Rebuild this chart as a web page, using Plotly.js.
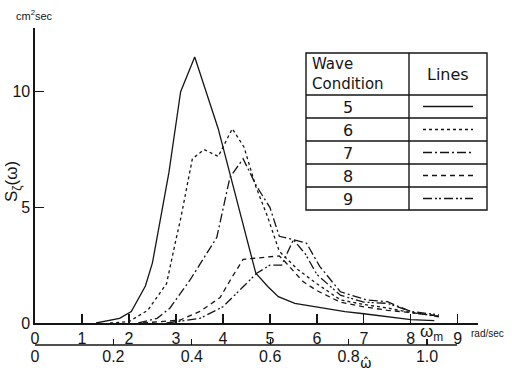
<!DOCTYPE html>
<html>
<head>
<meta charset="utf-8">
<script src="https://cdn.plot.ly/plotly-3.0.1.min.js"></script>
<style>html,body{margin:0;padding:0;background:#fff;}#chart{width:512px;height:372px;}</style>
</head>
<body>
<div id="chart"></div>
<script>
// Data (omega_m in rad/sec, S in cm^2 sec)
const w5 = [1.3, 1.8, 2.05, 2.35, 2.5, 2.85, 3.1, 3.4, 3.9, 4.7, 4.96, 5.18, 5.53, 5.96, 6.6, 7.0, 8.0, 8.5];
const s5 = [0, 0.2, 0.5, 1.6, 2.6, 6.5, 10.0, 11.5, 8.4, 2.15, 1.57, 1.14, 0.85, 0.7, 0.49, 0.4, 0.15, 0.1];

const w6 = [1.6, 2.0, 2.4, 2.8, 3.0, 3.1, 3.35, 3.6, 3.9, 4.2, 4.45, 4.7, 4.95, 5.2, 5.6, 6.0, 6.5, 7.0, 7.5, 8.0, 8.6];
const s6 = [0, 0.06, 0.55, 1.7, 3.6, 4.5, 7.1, 7.5, 7.2, 8.4, 7.6, 5.9, 4.6, 3.1, 2.3, 1.7, 1.0, 0.8, 0.65, 0.45, 0.3];

const w7 = [2.2, 2.6, 2.87, 3.3, 3.87, 4.15, 4.43, 4.72, 5.0, 5.2, 5.5, 5.78, 6.06, 6.5, 7.06, 7.5, 8.05, 8.6];
const s7 = [0, 0.2, 0.64, 1.86, 3.7, 6.3, 7.1, 5.9, 5.0, 3.75, 3.6, 3.45, 2.45, 1.35, 1.0, 0.92, 0.45, 0.27];

const w8 = [2.3, 2.7, 3.09, 3.51, 3.94, 4.2, 4.43, 4.68, 5.0, 5.2, 5.3, 5.7, 6.0, 6.5, 7.0, 7.5, 8.0, 8.6];
const s8 = [0, 0.05, 0.13, 0.5, 1.1, 2.0, 2.75, 2.8, 2.85, 2.9, 2.7, 1.8, 1.4, 0.9, 0.7, 0.55, 0.45, 0.3];

const w9 = [2.8, 3.2, 3.51, 4.0, 4.3, 4.72, 5.0, 5.25, 5.5, 5.75, 6.0, 6.5, 7.0, 7.5, 8.0, 8.6];
const s9 = [0, 0.1, 0.2, 0.7, 1.3, 2.15, 2.5, 2.5, 3.6, 3.0, 2.1, 1.2, 0.9, 0.85, 0.5, 0.35];

const conditions = ['5', '6', '7', '8', '9'];
const xTicks = [0, 1, 2, 3, 4, 5, 6, 7, 8, 9];
const yTicks = [0, 5, 10];
const hatTicks = [0, 0.2, 0.4, 0.6, 0.8, 1.0];
const hatLabels = ['0', '0.2', '0.4', '0.6', '0.8', '1.0'];

const dashes = ['solid', '3px,3px', '9px,3px,2px,3px', '5px,4px', '9px,3px,2px,2px,2px,3px'];
const seriesW = [w5, w6, w7, w8, w9];
const seriesS = [s5, s6, s7, s8, s9];

const ink = '#151515';
const traces = seriesW.map((w, i) => ({
  x: w, y: seriesS[i], type: 'scatter', mode: 'lines',
  line: {color: ink, width: 1.3, dash: dashes[i]},
  name: conditions[i], showlegend: false, hoverinfo: 'skip'
}));
traces.push({x: [], y: [], xaxis: 'x2', yaxis: 'y', type: 'scatter', mode: 'lines', showlegend: false});

// pixel -> paper helpers (plot paper: x 35..478, y 28..345)
const L = 35, R = 478, T = 28, B = 345;
const px = p => (p - L) / (R - L);
const py = p => (B - p) / (B - T);

const tickFam = 'Liberation Sans, Arial, sans-serif';
const boxFam = 'DejaVu Sans, sans-serif';
const tickFont = {family: tickFam, size: 16, color: ink};

const shapes = [];
const annotations = [];
// lower axis line
shapes.push({type: 'line', xref: 'paper', yref: 'paper', x0: 0, x1: px(457), y0: 0, y1: 0, line: {color: ink, width: 1.3}});

// legend table
const tl = 306, tr = 487, tdiv = 409, ttop = 53, thead = 95, tbot = 210;
const rowH = (tbot - thead) / conditions.length;
shapes.push({type: 'rect', xref: 'paper', yref: 'paper', x0: px(tl), x1: px(tr), y0: py(ttop), y1: py(tbot), line: {color: ink, width: 1.4}, fillcolor: 'rgba(255,255,255,1)', layer: 'above'});
shapes.push({type: 'line', xref: 'paper', yref: 'paper', x0: px(tdiv), x1: px(tdiv), y0: py(ttop), y1: py(tbot), line: {color: ink, width: 1.4}});
shapes.push({type: 'line', xref: 'paper', yref: 'paper', x0: px(tl), x1: px(tr), y0: py(thead), y1: py(thead), line: {color: ink, width: 1.4}});
annotations.push({xref: 'paper', yref: 'paper', x: px(310), y: py(74), xanchor: 'left', yanchor: 'middle', align: 'left', text: 'Wave<br>Condition', showarrow: false, font: {family: boxFam, size: 15, color: ink}});
annotations.push({xref: 'paper', yref: 'paper', x: px(448), y: py(74), xanchor: 'center', yanchor: 'middle', text: 'Lines', showarrow: false, font: {family: boxFam, size: 16, color: ink}});
conditions.forEach((c, i) => {
  const top = thead + i * rowH, bot = top + rowH, mid = (top + bot) / 2;
  if (i > 0) shapes.push({type: 'line', xref: 'paper', yref: 'paper', x0: px(tl), x1: px(tr), y0: py(top), y1: py(top), line: {color: ink, width: 1.4}});
  annotations.push({xref: 'paper', yref: 'paper', x: px(348), y: py(mid + 1), xanchor: 'center', yanchor: 'middle', text: c, showarrow: false, font: {family: boxFam, size: 16, color: ink}});
  shapes.push({type: 'line', xref: 'paper', yref: 'paper', x0: px(423), x1: px(473), y0: py(mid), y1: py(mid), line: {color: ink, width: 1.4, dash: dashes[i]}});
});

annotations.push({xref: 'paper', yref: 'paper', x: px(14), y: py(15), xanchor: 'left', yanchor: 'middle', text: 'cm<sup>2</sup>sec', showarrow: false, font: {family: tickFam, size: 11, color: ink}});
annotations.push({xref: 'paper', yref: 'paper', x: px(13), y: py(182), xanchor: 'center', yanchor: 'middle', textangle: -90, text: 'S<sub>ζ</sub>(ω)', showarrow: false, font: {family: tickFam, size: 17, color: ink}});
annotations.push({xref: 'paper', yref: 'paper', x: px(431), y: py(333), xanchor: 'center', yanchor: 'middle', text: 'ω<sub>m</sub>', showarrow: false, font: {family: tickFam, size: 17, color: ink}});
annotations.push({xref: 'paper', yref: 'paper', x: px(469), y: py(333), xanchor: 'left', yanchor: 'middle', text: 'rad/sec', showarrow: false, font: {family: tickFam, size: 10, color: ink}});
annotations.push({xref: 'paper', yref: 'paper', x: px(366), y: py(363), xanchor: 'center', yanchor: 'middle', text: 'ω\u0302', showarrow: false, font: {family: boxFam, size: 14, color: ink}});

const yPixPerUnit = (323 - 91.7) / 10;
const yTop = (323 - T) / yPixPerUnit;

const layout = {
  width: 512, height: 372,
  margin: {l: L, r: 512 - R, t: T, b: 372 - B, pad: 0},
  paper_bgcolor: '#fff', plot_bgcolor: 'rgba(0,0,0,0)',
  showlegend: false,
  xaxis: {range: [0, 9.43], domain: [0, 1], tickvals: xTicks, ticktext: xTicks.map(String), ticks: 'inside', ticklen: 9, tickwidth: 1.3, tickcolor: ink,
          showline: true, linecolor: ink, linewidth: 1.6, showgrid: false, zeroline: false, tickfont: tickFont, anchor: 'y'},
  xaxis2: {overlaying: 'x', anchor: 'free', position: 0, side: 'bottom', range: [0, (R - L) / (427 - L)], tickvals: hatTicks, ticktext: hatLabels,
           ticks: 'inside', ticklen: 6, tickwidth: 1.3, tickcolor: ink, showline: false, showgrid: false, zeroline: false, tickfont: tickFont},
  yaxis: {domain: [py(323), 1], range: [0, yTop], tickvals: yTicks, ticktext: yTicks.map(String), ticks: 'inside', ticklen: 9, tickwidth: 1.3, tickcolor: ink,
          showline: true, linecolor: ink, linewidth: 1.6, showgrid: false, zeroline: false, tickfont: tickFont},
  shapes: shapes,
  annotations: annotations
};

Plotly.newPlot('chart', traces, layout, {staticPlot: true, displayModeBar: false});
</script>
</body>
</html>
